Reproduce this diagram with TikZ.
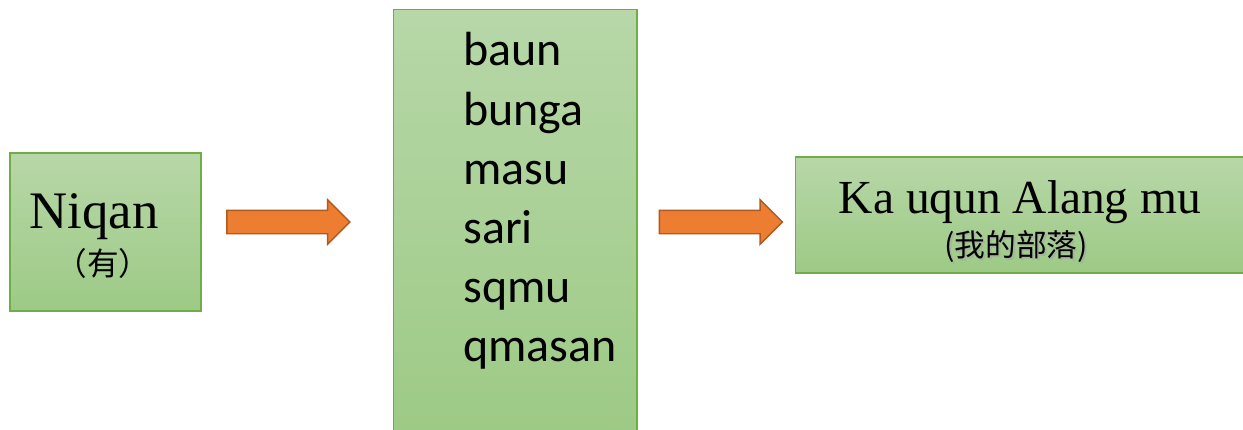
\documentclass[tikz,border=0pt]{standalone}
\usepackage{fontspec}
\setmainfont{Liberation Serif}
\newfontfamily\calfont{Carlito}
\newfontfamily\cjk{Noto Sans CJK TC}
\usetikzlibrary{shapes.arrows}
\definecolor{boxtop}{RGB}{183,215,168}
\definecolor{boxbot}{RGB}{157,202,133}
\definecolor{boxline}{RGB}{112,173,71}
\definecolor{arrfill}{RGB}{237,125,49}
\definecolor{arrline}{RGB}{174,90,33}

\begin{document}
\begin{tikzpicture}[x=0.02cm,y=-0.02cm,
  greenbox/.style={draw=boxline,line width=0.6pt,top color=boxtop,bottom color=boxbot,inner sep=0pt},
  fatarrow/.style={single arrow,draw=arrline,fill=arrfill,line width=0.8pt,minimum height=2.46cm,
    minimum width=0.86cm,single arrow head extend=0.21cm,inner xsep=0pt,inner ysep=0.22cm}]
 \useasboundingbox (0,0) rectangle (1243,429); %画像の範囲
 \node[greenbox,minimum width=3.82cm,minimum height=3.16cm] (niqan) at (105.5,232) {}; %左の箱
 \node[greenbox,minimum width=4.88cm,minimum height=8.46cm] (words) at (515,220.5) {}; %中央の箱
 \node[greenbox,minimum width=8.98cm,minimum height=2.32cm] (alang) at (1019.5,215) {}; %右の箱
 \node[font=\fontsize{30}{36}\selectfont] (niqant) at (94,217) {Niqan};
 \node[font=\cjk\fontsize{18}{22}\selectfont] (niqanz) at (103,263) {（有）};
 \foreach \w [count=\i] in {baun,bunga,masu,sari,sqmu,qmasan}
  \node[anchor=base west,inner sep=0pt,font=\calfont\fontsize{27.3}{33}\selectfont] (w\i) at (463,7+59*\i) {\w}; %単語
 \node[font=\fontsize{27}{32}\selectfont] (alangt) at (1020,202) {Ka uqun Alang mu};
 \node[font=\cjk\fontsize{17.5}{21}\selectfont,text=black!35,opacity=0.6] (alangs) at (1018,249) {(我的部落)}; %影
 \node[font=\cjk\fontsize{17.5}{21}\selectfont] (alangz) at (1016,247) {(我的部落)};
 \node[fatarrow] (arr1) at (282.5,222) {}; %矢印1
 \node[fatarrow] (arr2) at (715,222) {}; %矢印2
\end{tikzpicture}
\end{document}
